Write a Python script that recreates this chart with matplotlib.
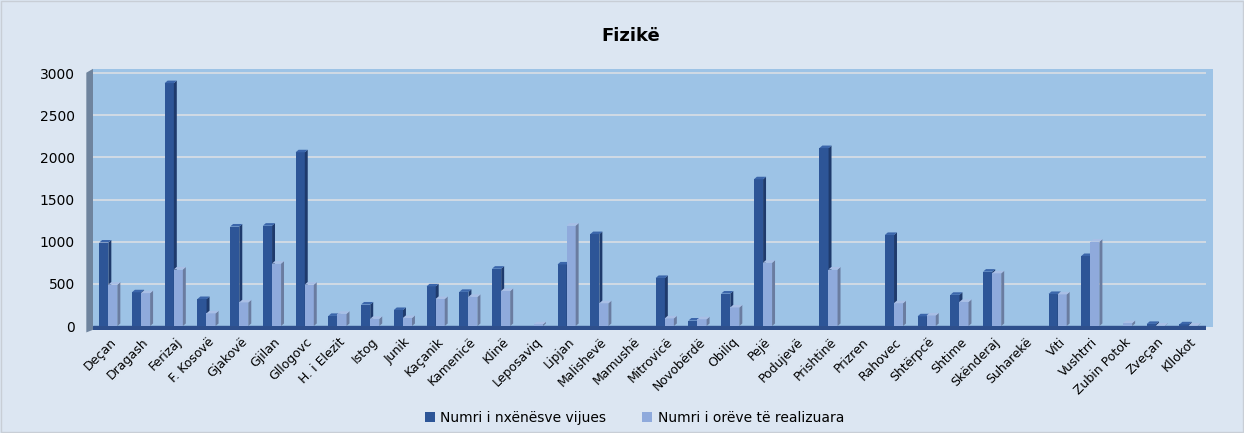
import matplotlib
matplotlib.use("Agg")
import matplotlib.pyplot as plt
from matplotlib.patches import Polygon, Rectangle
import numpy as np

categories = ["Deçan", "Dragash", "Ferizaj", "F. Kosovë", "Gjakovë", "Gjilan", "Gllogovc",
              "H. i Elezit", "Istog", "Junik", "Kaçanik", "Kamenicë", "Klinë", "Leposaviq",
              "Lipjan", "Malishevë", "Mamushë", "Mitrovicë", "Novobërdë", "Obiliq", "Pejë",
              "Podujevë", "Prishtinë", "Prizren", "Rahovec", "Shtërpcë", "Shtime", "Skënderaj",
              "Suharekë", "Viti", "Vushtrri", "Zubin Potok", "Zveçan", "Kllokot"]
nxenes = [990, 400, 2880, 320, 1180, 1190, 2060, 120, 255, 190, 470, 405, 680, 0,
          730, 1090, 0, 570, 65, 385, 1740, 0, 2110, 0, 1080, 115, 370, 645,
          0, 380, 830, 0, 25, 20]
ore = [490, 390, 670, 150, 280, 740, 490, 145, 85, 95, 320, 345, 415, 20,
       1190, 270, 0, 90, 80, 220, 750, 0, 670, 0, 270, 125, 285, 625,
       0, 375, 1000, 35, 5, 5]
series_names = ["Numri i nxënësve vijues", "Numri i orëve të realizuara"]
yticks = [0, 500, 1000, 1500, 2000, 2500, 3000]

plt.rcParams['font.family'] = ['DejaVu Sans']

fig = plt.figure(figsize=(12.44, 4.33), dpi=100)
fig.patch.set_facecolor('#DCE6F2')
fig.add_artist(Rectangle((0.001, 0.002), 0.998, 0.996, transform=fig.transFigure,
                         fill=False, edgecolor='#C8CED6', linewidth=1))

ax = fig.add_axes([93/1244, 0.2383, (1206-93)/1244, 0.6028])
ax.set_facecolor('#9DC3E6')
ax.set_xlim(-0.5, len(categories) - 0.5)
ax.set_ylim(-45, 3050)

# back wall extension on the right (3D depth)
ax.add_patch(Rectangle((1.0, 0.01), 0.006, 0.99, transform=ax.transAxes, clip_on=False,
                       facecolor='#9DC3E6', edgecolor='none', zorder=0.5))

for t in yticks[1:]:
    ax.axhline(t, color='#D5DCE4', linewidth=1.3, zorder=1)
ax.axhspan(-45, 0, color='#2E4F8C', zorder=1.5)

x = np.arange(len(categories))
w = 0.28
dx = 0.09
dy = 30
styles = [
    (-0.17, '#2D5597', '#1E3A6C', '#3B66AB', 3),
    (0.105, '#8FAADC', '#6A7CA0', '#A9BFE6', 4),
]
for vals, (off, front, side, top, z), name in zip([nxenes, ore], styles, series_names):
    xs = x + off
    ax.bar(xs, vals, width=w, color=front, zorder=z, label=name, linewidth=0)
    for xi, v in zip(xs, vals):
        if v <= 0:
            continue
        r = xi + w / 2
        l = xi - w / 2
        ax.add_patch(Polygon([(r, 0), (r + dx, dy), (r + dx, v + dy), (r, v)],
                             closed=True, facecolor=side, edgecolor='none', zorder=z))
        ax.add_patch(Polygon([(l, v), (l + dx, v + dy), (r + dx, v + dy), (r, v)],
                             closed=True, facecolor=top, edgecolor='none', zorder=z))

# left wall
ax.add_patch(Polygon([(-0.006, -0.01), (0.0, 0.0), (0.0, 1.0), (-0.006, 0.985)],
                     closed=True, transform=ax.transAxes, clip_on=False,
                     facecolor='#6F849E', edgecolor='none', zorder=2))

for s in ax.spines.values():
    s.set_visible(False)

ax.set_yticks(yticks)
ax.set_yticklabels([str(t) for t in yticks], fontsize=10)
ax.tick_params(axis='y', length=0, pad=13)
ax.set_xticks(x)
ax.set_xticklabels(categories, rotation=45, ha='right', rotation_mode='anchor', fontsize=9)
ax.tick_params(axis='x', length=0, pad=4)

fig.text(0.507, 0.917, "Fizikë", ha='center', va='center', fontsize=13, fontweight='bold')

handles, labels = ax.get_legend_handles_labels()
fig.legend(handles, labels, loc='center', bbox_to_anchor=(0.51, 0.035), ncol=2,
           frameon=False, fontsize=10, handlelength=0.7, handleheight=0.7,
           columnspacing=2.6, handletextpad=0.4)

fig.savefig("out.png", dpi=100, facecolor=fig.get_facecolor())
